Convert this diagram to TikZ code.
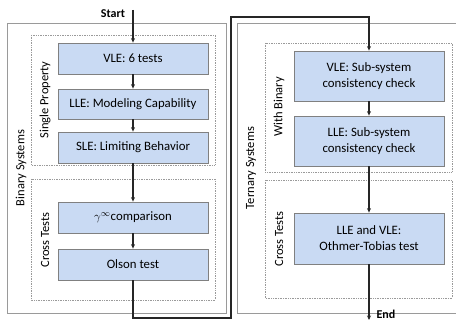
\documentclass[tikz,border=0pt]{standalone}
\usepackage{fontspec}
\setmainfont{Carlito}
\usetikzlibrary{arrows.meta}
\definecolor{boxfill}{HTML}{C9DAF3}
\definecolor{boxdraw}{HTML}{808080}
\definecolor{framecol}{HTML}{9A9A9A}
\begin{document}
\begin{tikzpicture}[x=1pt,y=-1pt,
  stepbox/.style={draw=boxdraw,fill=boxfill,line width=0.8pt,minimum width=150pt,inner sep=0pt,align=center,font=\fontsize{12.8}{16}\selectfont},
  grp/.style={draw=framecol,densely dotted,line width=0.7pt},
  outer/.style={draw=framecol,line width=0.6pt},
  lab/.style={rotate=90,font=\fontsize{12.5}{14}\selectfont},
  conn/.style={line width=1.1pt,draw=black!85,-{Stealth[length=4.5pt,width=4pt]}}]
\useasboundingbox (0,0) rectangle (456,321);
\fill[white] (0,0) rectangle (456,321);
\begin{scope}
\clip (0,0) rectangle (456,321);
% outer frames
\draw[outer] (7,23) rectangle (226,313);
\draw[outer] (237,23) rectangle (470,313);
% dotted groups
\draw[grp] (31,35) rectangle (215,165);
\draw[grp] (31,179) rectangle (215,300);
\draw[grp] (265,43) rectangle (452,172);
\draw[grp] (265,180) rectangle (452,298);
\end{scope}
% labels
\node[lab] (lbs) at (21,168) {Binary Systems};
\node[lab] (lsp) at (45,100) {Single Property};
\node[lab] (lct1) at (45,240) {Cross Tests};
\node[lab] (lts) at (251,168) {Ternary Systems};
\node[lab] (lwb) at (279,107) {With Binary};
\node[lab] (lct2) at (279,239) {Cross Tests};
% boxes
\node[stepbox,minimum height=31pt] (vle) at (133,58.5) {VLE: 6 tests};
\node[stepbox,minimum height=30pt] (lle) at (133,104) {LLE: Modeling Capability};
\node[stepbox,minimum height=31pt] (sle) at (133,147.5) {SLE: Limiting Behavior};
\node[stepbox,minimum height=31pt] (gam) at (133,217.5) {$\gamma^{\infty}$comparison};
\node[stepbox,minimum height=31pt] (ols) at (133,264.5) {Olson test};
\node[stepbox,minimum height=50pt] (rv) at (369,76) {VLE: Sub-system\\consistency check};
\node[stepbox,minimum height=50pt] (rl) at (369,141) {LLE: Sub-system\\consistency check};
\node[stepbox,minimum height=51pt] (ro) at (369,238.5) {LLE and VLE:\\Othmer-Tobias test};
% start / end
\coordinate (st) at (133,10);
\node[font=\bfseries\fontsize{12}{14}\selectfont] (start) at (113,14) {Start};
\coordinate (en) at (369,320);
\node[font=\bfseries\fontsize{12}{14}\selectfont,anchor=west] (endl) at (373,314) {End};
\coordinate (b1) at (133,318);
\coordinate (b2) at (231,318);
\coordinate (b3) at (231,17);
\coordinate (b4) at (369,17);
% connectors
\draw[conn] (st) -- (vle);
\draw[conn] (vle) -- (lle);
\draw[conn] (lle) -- (sle);
\draw[conn] (sle) -- (gam);
\draw[conn] (gam) -- (ols);
\draw[conn] (ols.south) -- (b1) -- (b2) -- (b3) -- (b4) -- (rv.north);
\draw[conn] (rv) -- (rl);
\draw[conn] (rl) -- (ro);
\draw[conn] (ro) -- (en);
\end{tikzpicture}
\end{document}
